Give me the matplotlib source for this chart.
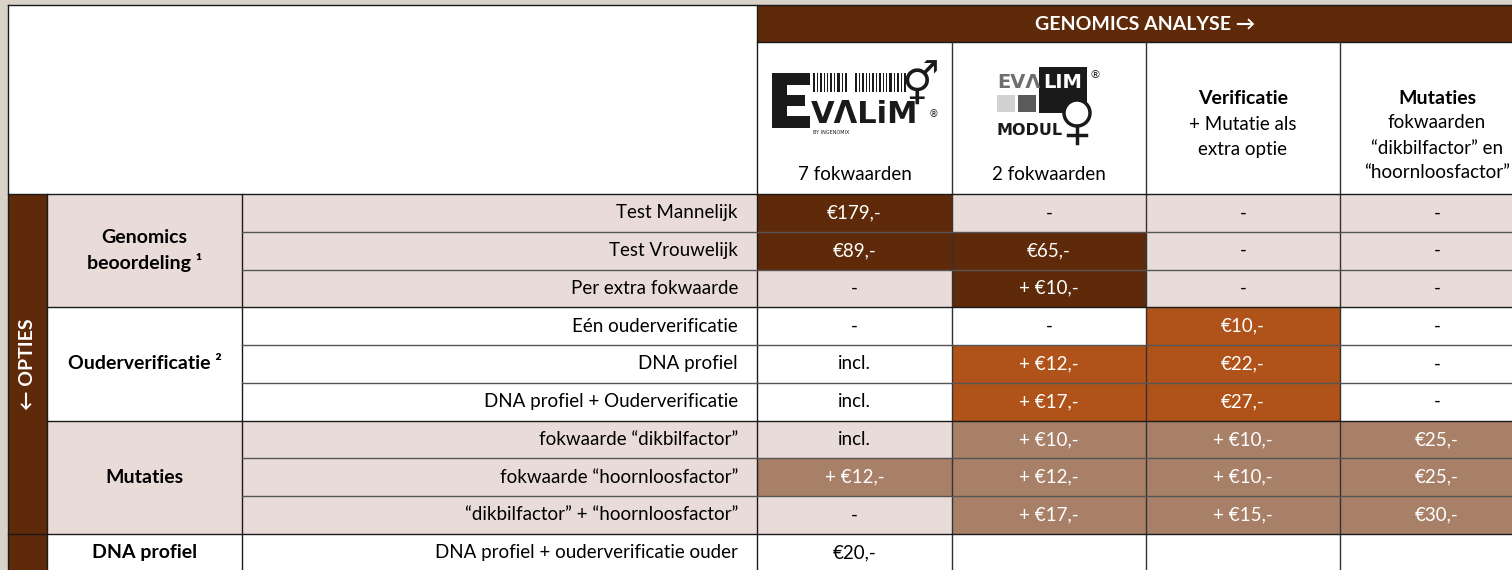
import matplotlib.pyplot as plt
from matplotlib.patches import Rectangle, Circle

plt.rcParams['font.family'] = ['Lato', 'DejaVu Sans']

# tabel gegevens
row_labels = ['Test Mannelijk', 'Test Vrouwelijk', 'Per extra fokwaarde',
              'Eén ouderverificatie', 'DNA profiel', 'DNA profiel + Ouderverificatie',
              'fokwaarde “dikbilfactor”', 'fokwaarde “hoornloosfactor”',
              '“dikbilfactor” + “hoornloosfactor”', 'DNA profiel + ouderverificatie ouder']
group_labels = ['Genomics\nbeoordeling ¹', 'Ouderverificatie ²', 'Mutaties', 'DNA profiel']
group_sizes = [3, 3, 3, 1]

col_evalim = ['€179,-', '€89,-', '-', '-', 'incl.', 'incl.', 'incl.', '+ €12,-', '-', '€20,-']
col_modul = ['-', '€65,-', '+ €10,-', '-', '+ €12,-', '+ €17,-', '+ €10,-', '+ €12,-', '+ €17,-', '']
col_verificatie = ['-', '-', '-', '€10,-', '€22,-', '€27,-', '+ €10,-', '+ €10,-', '+ €15,-', '']
col_mutaties = ['-', '-', '-', '-', '-', '-', '€25,-', '€25,-', '€30,-', '']
columns = [col_evalim, col_modul, col_verificatie, col_mutaties]

# welk pakket de cel hoort: g = genomics, o = ouderverificatie, m = mutaties, . = geen
mark_evalim = 'gg.....m..'
mark_modul = '.gg.oommm.'
mark_verificatie = '...ooommm.'
mark_mutaties = '......mmm.'
marks = [mark_evalim, mark_modul, mark_verificatie, mark_mutaties]

col_captions = ['7 fokwaarden', '2 fokwaarden', '', '']
header_title = 'GENOMICS ANALYSE →'
side_title = '← OPTIES'

dark = '#5f2a09'
orange = '#b0531a'
muted = '#a88068'
pink = '#e8dbd8'
mark_colors = {'g': dark, 'o': orange, 'm': muted}

fig = plt.figure(figsize=(15.12, 5.70), dpi=100)
fig.patch.set_facecolor('#d8d2c9')
ax = fig.add_axes([0, 0, 1, 1])
ax.set_xlim(0, 1512)
ax.set_ylim(570, 0)
ax.axis('off')

xe = [8, 47, 242, 757, 952, 1146, 1340, 1534]
top, band, head = 5, 42, 194
rh = 37.75
n = len(row_labels)
bottom = head + n * rh
fs = 13.5
fsb = 14

# kop
ax.add_patch(Rectangle((xe[0], top), xe[3] - xe[0], head - top, fc='white', ec='none'))
ax.add_patch(Rectangle((xe[3], top), xe[-1] - xe[3], band - top, fc=dark, ec='none'))
ax.add_patch(Rectangle((xe[3], band), xe[-1] - xe[3], head - band, fc='white', ec='none'))
ax.text((xe[3] + xe[-1]) / 2, (top + band) / 2 + 1, header_title, color='white',
        fontsize=14, fontweight='bold', ha='center', va='center')

for j, cap in enumerate(col_captions):
    if cap:
        ax.text((xe[3 + j] + xe[4 + j]) / 2, 175, cap, fontsize=fs, ha='center', va='center')

cx = (xe[5] + xe[6]) / 2
ax.text(cx, 99, 'Verificatie', fontsize=fsb, fontweight='bold', ha='center', va='center')
ax.text(cx, 125, '+ Mutatie als', fontsize=fs, ha='center', va='center')
ax.text(cx, 150, 'extra optie', fontsize=fs, ha='center', va='center')
cx = (xe[6] + xe[7]) / 2
ax.text(cx, 99, 'Mutaties', fontsize=fsb, fontweight='bold', ha='center', va='center')
ax.text(cx, 123, 'fokwaarden', fontsize=fs, ha='center', va='center')
ax.text(cx, 148, '“dikbilfactor” en', fontsize=fs, ha='center', va='center')
ax.text(cx, 173, '“hoornloosfactor”', fontsize=fs, ha='center', va='center')

# logo EVALIM
for x0, y0, w, h in [(772, 73, 15, 55), (772, 73, 38, 12), (772, 95, 33, 11), (772, 116, 38, 12)]:
    ax.add_patch(Rectangle((x0, y0), w, h, fc='#1a1a1a', ec='none'))
bars = [2, 1, 2, 1, 1, 2, 1, 3, 1, 2, 0, 0, 2, 1, 2, 1, 1, 2, 1, 2, 1, 1, 3, 1, 2, 1, 2]
bx = 813
for b in bars:
    if b:
        ax.add_patch(Rectangle((bx, 73), b, 19, fc='#1a1a1a', ec='none'))
    bx += b + 2 if b else 3
ax.text(811, 129, 'VΛLiM', family='DejaVu Sans', fontweight='bold', fontsize=22,
        color='#1a1a1a', ha='left', va='bottom')
ax.text(920, 87, '⚥', family='DejaVu Sans', fontsize=30, color='#1a1a1a', ha='center', va='center')
ax.text(934, 114, '®', family='DejaVu Sans', fontsize=7, color='#1a1a1a', ha='center', va='center')
ax.text(813, 129.5, 'BY INGENOMIX', family='DejaVu Sans', fontsize=3.5, color='#1a1a1a',
        ha='left', va='top')

# logo EVALIM MODUL
ax.add_patch(Rectangle((1039, 67), 48, 46, fc='#1a1a1a', ec='none'))
ax.add_patch(Rectangle((997, 95), 18, 17, fc='#d2d2d2', ec='none'))
ax.add_patch(Rectangle((1018, 95), 18, 17, fc='#5a5a5a', ec='none'))
ax.text(997, 88, 'EVΛ', family='DejaVu Sans', fontweight='bold', fontsize=14, color='#6e6e6e',
        ha='left', va='baseline')
ax.text(1063, 88, 'LIM', family='DejaVu Sans', fontweight='bold', fontsize=14, color='white',
        ha='center', va='baseline')
ax.text(1095, 75, '®', family='DejaVu Sans', fontsize=8, color='#1a1a1a', ha='center', va='center')
ax.text(996, 135, 'MODUL', family='DejaVu Sans', fontweight='bold',
        fontsize=11.5, color='#1a1a1a', ha='left', va='baseline')
ax.add_patch(Circle((1077, 113), 13, fc='white', ec='#1a1a1a', lw=2.5))
ax.plot([1077, 1077], [126, 143], color='#1a1a1a', lw=2.5)
ax.plot([1068, 1086], [135, 135], color='#1a1a1a', lw=2.5)

# rijen
g_start = 0
for g, size in enumerate(group_sizes):
    y0 = head + g_start * rh
    bg = pink if g % 2 == 0 else 'white'
    ax.add_patch(Rectangle((xe[1], y0), xe[-1] - xe[1], size * rh, fc=bg, ec='none'))
    ax.text((xe[1] + xe[2]) / 2, y0 + size * rh / 2, group_labels[g], fontsize=fsb,
            fontweight='bold', ha='center', va='center', linespacing=1.45)
    g_start += size

for i, label in enumerate(row_labels):
    yc = head + (i + 0.5) * rh
    ax.text(xe[3] - 19, yc, label, fontsize=fs, ha='right', va='center')
    for j, col in enumerate(columns):
        m = marks[j][i]
        if m != '.':
            ax.add_patch(Rectangle((xe[3 + j], head + i * rh), xe[4 + j] - xe[3 + j], rh,
                                   fc=mark_colors[m], ec='none'))
        ax.text((xe[3 + j] + xe[4 + j]) / 2, yc, col[i], fontsize=fs, ha='center', va='center',
                color='white' if m != '.' else 'black')

# zijbalk opties
ax.add_patch(Rectangle((xe[0], head), xe[1] - xe[0], bottom - head, fc=dark, ec='none'))
ax.text((xe[0] + xe[1]) / 2, head + 4.5 * rh, side_title, rotation=90, color='white',
        fontsize=14, fontweight='bold', ha='center', va='center')

# lijnen
lw = 1.0
ax.plot([xe[0], xe[-1]], [top, top], color='#1a1a1a', lw=lw)
ax.plot([xe[3], xe[-1]], [band, band], color='#1a1a1a', lw=lw)
for x in xe[4:7]:
    ax.plot([x, x], [band, bottom], color='#333333', lw=lw)
ax.plot([xe[3], xe[3]], [top, bottom], color='#1a1a1a', lw=lw)
ax.plot([xe[0], xe[0]], [top, bottom], color='#1a1a1a', lw=lw)
ax.plot([xe[1], xe[1]], [head, bottom], color='#1a1a1a', lw=lw)
ax.plot([xe[2], xe[2]], [head, bottom], color='#1a1a1a', lw=lw)
ax.plot([xe[0], xe[-1]], [head, head], color='#1a1a1a', lw=lw)
g_start = 0
for size in group_sizes:
    for k in range(1, size):
        y = head + (g_start + k) * rh
        ax.plot([xe[2], xe[-1]], [y, y], color='#555555', lw=lw)
    g_start += size
    y = head + g_start * rh
    ax.plot([xe[0] if g_start == 9 else xe[1], xe[-1]], [y, y], color='#1a1a1a', lw=lw)

fig.savefig('out.png', dpi=100, facecolor=fig.get_facecolor())
